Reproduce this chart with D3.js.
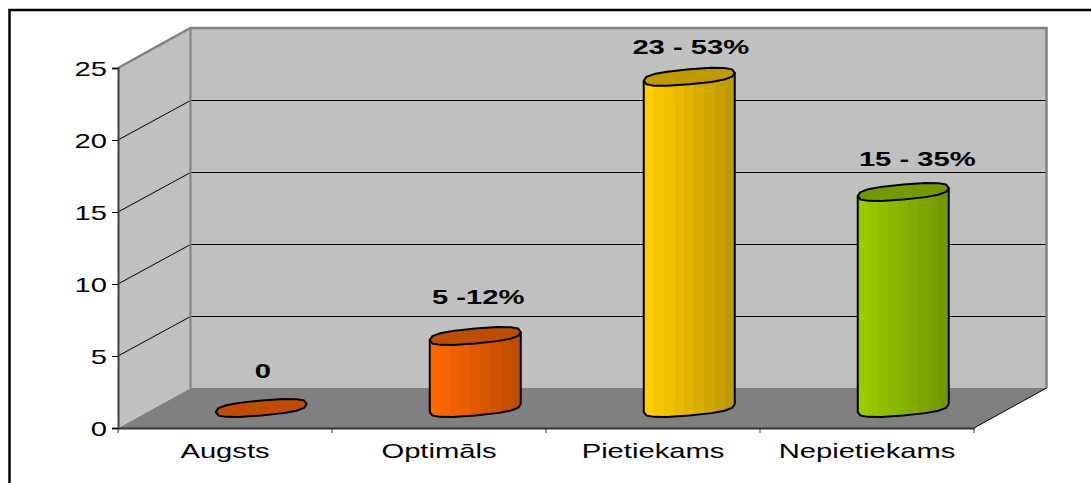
<!DOCTYPE html>
<html>
<head>
<meta charset="utf-8">
<script src="https://cdn.jsdelivr.net/npm/d3@7"></script>
<style>
  html, body { margin: 0; padding: 0; background: #fff; }
  svg { display: block; }
  text { font-family: "Liberation Sans", Arial, sans-serif; fill: #000; }
</style>
</head>
<body>
<div id="chart"></div>
<script>
const width = 1091;
const height = 483;

const categories = ["Augsts", "Optimāls", "Pietiekams", "Nepietiekams"];
const values = [0, 5, 23, 15];
const valueLabels = ["0", "5 -12%", "23 - 53%", "15 - 35%"];
const yTicks = [0, 5, 10, 15, 20, 25];

const barColors = ["#ff6600", "#ff6600", "#ffcc00", "#99cc00"];
const barDark = ["#bf4d00", "#bf4d00", "#bf9900", "#739900"];

// the box of the fake 3d chart
const plotLeft = 118, plotRight = 974, plotBottom = 428, plotTop = 68;
const depthX = 72.5, depthY = -40;
const fontSize = 21;
const textStretch = 1.39;
// data labels do not sit in the same spot over each bar
const labelDx = [1.5, 3, 1.5, 14];
const labelDy = [-30, -32, -23, -26];

const x = d3.scaleBand().domain(categories).range([plotLeft, plotRight]);
const y = d3.scaleLinear().domain([0, 25]).range([plotBottom, plotTop]);

const svg = d3.select("#chart")
  .append("svg")
  .attr("width", width)
  .attr("height", height);

// the frame only shows on the top and left, the rest is cut off
svg.append("path")
  .attr("d", `M9.5,${height}V10H${width}`)
  .attr("fill", "none")
  .attr("stroke", "#000")
  .attr("stroke-width", 2.5);

const poly = pts => "M" + pts.map(p => p.join(",")).join("L") + "Z";

// floor
svg.append("path")
  .attr("d", poly([
    [plotLeft, plotBottom], [plotLeft + depthX, plotBottom + depthY],
    [plotRight + depthX, plotBottom + depthY], [plotRight, plotBottom]
  ]))
  .attr("fill", "#808080");

// side wall
svg.append("path")
  .attr("d", poly([
    [plotLeft, plotBottom], [plotLeft, plotTop],
    [plotLeft + depthX, plotTop + depthY], [plotLeft + depthX, plotBottom + depthY]
  ]))
  .attr("fill", "#c0c0c0");

// back wall
svg.append("rect")
  .attr("x", plotLeft + depthX)
  .attr("y", plotTop + depthY)
  .attr("width", plotRight - plotLeft)
  .attr("height", plotBottom - plotTop)
  .attr("fill", "#c0c0c0");

// grid lines on both walls
const gridTicks = yTicks.filter(d => d > 0 && d < 25);
svg.selectAll(".grid")
  .data(gridTicks)
  .enter()
  .append("path")
  .attr("class", "grid")
  .attr("d", d => `M${plotLeft},${y(d)}L${plotLeft + depthX},${y(d) + depthY + 0.5}H${plotRight + depthX}`)
  .attr("fill", "none")
  .attr("stroke", "#000")
  .attr("stroke-width", 1);

// wall edges
svg.append("path")
  .attr("d", `M${plotLeft},${plotTop}L${plotLeft + depthX},${plotTop + depthY}H${plotRight + depthX}V${plotBottom + depthY}`)
  .attr("fill", "none")
  .attr("stroke", "#808080")
  .attr("stroke-width", 2.5);
svg.append("path")
  .attr("d", `M${plotLeft + depthX},${plotTop + depthY}V${plotBottom + depthY}`)
  .attr("fill", "none")
  .attr("stroke", "#808080")
  .attr("stroke-width", 2);
svg.append("path")
  .attr("d", `M${plotRight},${plotBottom}L${plotRight + depthX},${plotBottom + depthY}`)
  .attr("fill", "none")
  .attr("stroke", "#000")
  .attr("stroke-width", 1);

// one hard stop gradient per bar, the cylinder is made of flat strips
const defs = svg.append("defs");
const strips = 9;
categories.forEach((c, i) => {
  const grad = defs.append("linearGradient")
    .attr("id", "bar" + i);
  const col = d3.interpolateRgb(barColors[i], barDark[i]);
  d3.range(strips).forEach(s => {
    grad.append("stop").attr("offset", s / strips).attr("stop-color", col(s / (strips - 1)));
    grad.append("stop").attr("offset", (s + 1) / strips).attr("stop-color", col(s / (strips - 1)));
  });
});

// ring of the cylinder, tilted up to the right. Squared off a bit, the
// original ones are blocky
const radX = 45.5, radD = 7.5, tilt = 4, sides = 16;
const soft = a => Math.sign(a) * Math.pow(Math.abs(a), 0.75);
const ring = (cx, cy) => d3.range(sides).map(k => {
  const t = k / sides * 2 * Math.PI;
  const s = soft(Math.sin(t)), c = soft(Math.cos(t));
  return [cx + radX * c, cy - radD * s - tilt * c];
});

const bars = svg.selectAll(".bar")
  .data(values)
  .enter()
  .append("g")
  .attr("class", "bar");

bars.each(function(v, i) {
  const g = d3.select(this);
  const cx = x(categories[i]) + x.bandwidth() / 2 + depthX / 2;
  const yTop = y(v) + depthY / 2;
  const yBase = y(0) + depthY / 2;
  const topRing = ring(cx, yTop);
  const baseRing = ring(cx, yBase);

  if (v > 0) {
    // walk the base ring from the leftmost to the rightmost point, under the front
    const iL = d3.leastIndex(baseRing, (a, b) => a[0] - b[0]);
    const iR = d3.leastIndex(baseRing, (a, b) => b[0] - a[0]);
    const front = [];
    for (let k = iL; k !== iR; k = (k + 1) % sides) front.push(baseRing[k]);
    front.push(baseRing[iR]);
    g.append("path")
      .attr("d", poly([topRing[iL], ...front, topRing[iR]]))
      .attr("fill", `url(#bar${i})`)
      .attr("stroke", "#000")
      .attr("stroke-width", 2)
      .attr("stroke-linejoin", "round");
  }

  g.append("path")
    .attr("d", poly(topRing))
    .attr("fill", barDark[i])
    .attr("stroke", "#000")
    .attr("stroke-width", 2)
    .attr("stroke-linejoin", "round");

  g.append("text")
    .attr("transform", `translate(${cx + labelDx[i]},${yTop + labelDy[i]}) scale(${textStretch},1)`)
    .attr("text-anchor", "middle")
    .attr("font-size", fontSize)
    .attr("font-weight", "bold")
    .text(valueLabels[i]);
});

// axes
const yAxis = svg.append("g")
  .attr("transform", `translate(${plotLeft},0)`)
  .call(d3.axisLeft(y).tickValues(yTicks).tickSize(6).tickPadding(4));
yAxis.select(".domain").attr("stroke", "#404040").attr("stroke-width", 2);
yAxis.selectAll("line").attr("stroke", "#000");
yAxis.selectAll("text")
  .attr("font-size", fontSize)
  .attr("font-family", null)
  .attr("transform", `translate(-11,0) scale(${textStretch},1)`)
  .attr("x", 0)
  .attr("dy", "0.34em");

const xAxis = svg.append("g")
  .attr("transform", `translate(0,${plotBottom})`)
  .call(d3.axisBottom(x).tickSize(0).tickPadding(0));
xAxis.select(".domain").attr("stroke", "#333").attr("stroke-width", 2);
xAxis.selectAll("text")
  .attr("font-size", fontSize)
  .attr("font-family", null)
  .attr("y", 30)
  .attr("dy", 0)
  .attr("transform", `scale(${textStretch},1)`);

// the ticks sit between the categories, not on them
xAxis.selectAll(".sep")
  .data([...categories.map(c => x(c)), plotRight])
  .enter()
  .append("line")
  .attr("class", "sep")
  .attr("x1", d => d)
  .attr("x2", d => d)
  .attr("y1", 0)
  .attr("y2", 5)
  .attr("stroke", "#333");
</script>
</body>
</html>
